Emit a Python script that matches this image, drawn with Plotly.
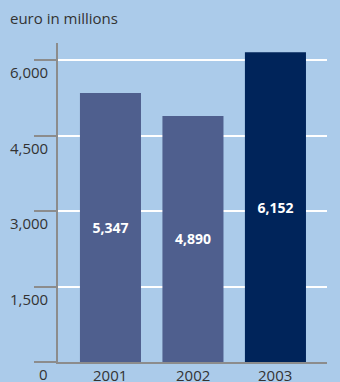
import plotly.graph_objects as go

years = ["2001", "2002", "2003"]
values = [5347, 4890, 6152]
bar_colors = ["#4f5f8e", "#4f5f8e", "#00245a"]
ytick_vals = [0, 1500, 3000, 4500, 6000]
ytick_text = ["0", "1,500", "3,000", "4,500", "6,000"]
title_text = "euro in millions"

W, H = 340, 382
ml, mr, mt, mb = 58, 13, 43, 20
pw = W - ml - mr

fig = go.Figure()
fig.add_trace(go.Bar(
    x=years, y=values,
    marker=dict(color=bar_colors, line=dict(width=0)),
    width=0.74,
    text=[f"{v:,}" for v in values],
    textposition="inside",
    insidetextanchor="middle",
    textfont=dict(family="Open Sans", size=14, color="white", weight="bold"),
    hoverinfo="skip",
))

annotations = []
for v, t in zip(ytick_vals, ytick_text):
    annotations.append(dict(
        x=-8 / pw, xref="paper", y=v, yref="y",
        text=t, showarrow=False, xanchor="right", yanchor="middle",
        yshift=-12, font=dict(family="Open Sans", size=15, color="#333333"),
    ))
for i, yr in enumerate(years):
    annotations.append(dict(
        x=i, xref="x", y=0, yref="y",
        text=yr, showarrow=False, xanchor="center", yanchor="middle",
        yshift=-13, font=dict(family="Open Sans", size=15, color="#333333"),
    ))
annotations.append(dict(
    x=-(ml - 8) / pw, xref="paper", y=1 + (mt - 18) / (H - mt - mb), yref="paper",
    text=title_text, showarrow=False, xanchor="left", yanchor="middle",
    font=dict(family="Open Sans", size=15, color="#333333"),
))

fig.update_layout(
    width=W, height=H,
    margin=dict(l=ml, r=mr, t=mt, b=mb, pad=0, autoexpand=False),
    paper_bgcolor="#abcbea", plot_bgcolor="#abcbea",
    showlegend=False,
    bargap=0.26,
    annotations=annotations,
    xaxis=dict(
        type="category", range=[-0.636, 2.625], automargin=False,
        showgrid=False, showline=True, linecolor="#8c8c8c", linewidth=2,
        ticks="", showticklabels=False,
        fixedrange=True,
    ),
    yaxis=dict(
        range=[0, 6338], tickvals=ytick_vals, showticklabels=False, automargin=False,
        showgrid=True, gridcolor="white", gridwidth=1.5,
        zeroline=False,
        showline=True, linecolor="#8c8c8c", linewidth=1.5,
        ticks="outside", ticklen=22, tickwidth=1.5, tickcolor="#8c8c8c",
        fixedrange=True,
    ),
)

fig.write_html(
    "out.html",
    config={"displayModeBar": False},
    post_script="document.body.style.margin='0';document.body.style.overflow='hidden';",
)
